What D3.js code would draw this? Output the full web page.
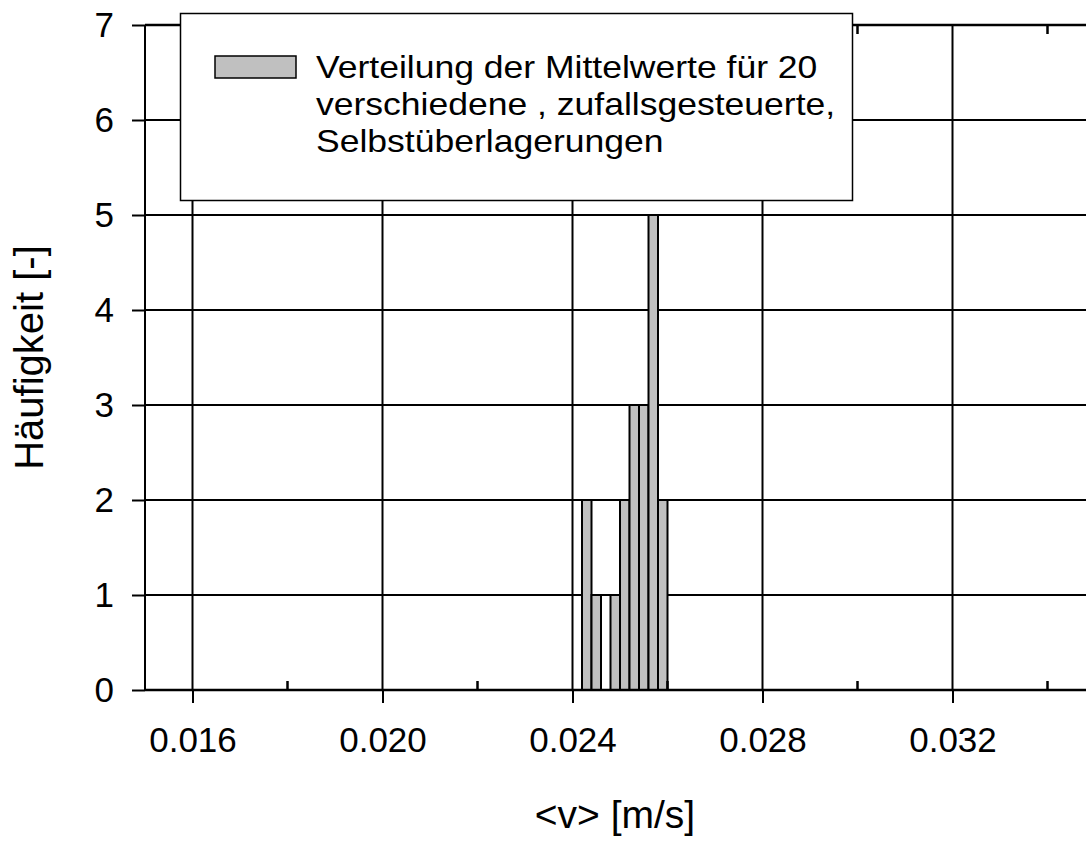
<!DOCTYPE html>
<html>
<head>
<meta charset="utf-8">
<script src="https://cdn.jsdelivr.net/npm/d3@7"></script>
<style>
  html, body { margin: 0; padding: 0; background: #fff; }
  svg { display: block; font-family: "Liberation Sans", Arial, sans-serif; }
</style>
</head>
<body>
<svg id="chart" width="1086" height="849"></svg>
<script>
// Histogram bins (lower edge of each class, m/s) and their counts
const binStarts = [0.0242, 0.0244, 0.0246, 0.0248, 0.0250, 0.0252, 0.0254, 0.0256, 0.0258];
const counts    = [2, 1, 0, 1, 2, 3, 3, 5, 2];
const binWidth  = 0.0002;

// Axis ticks
const xMajorTicks = [0.016, 0.020, 0.024, 0.028, 0.032];
const xMinorTicks = [0.018, 0.022, 0.026, 0.030, 0.034];
const xTickLabels = ["0.016", "0.020", "0.024", "0.028", "0.032"];
const yTicks = [0, 1, 2, 3, 4, 5, 6, 7];

const legendLines = [
  "Verteilung der Mittelwerte für 20",
  "verschiedene , zufallsgesteuerte,",
  "Selbstüberlagerungen"
];

const svg = d3.select("#chart");

const x = d3.scaleLinear().domain([0.015, 0.035]).range([145, 1095]);
const y = d3.scaleLinear().domain([0, 7]).range([690, 25]);

const data = binStarts.map((b, i) => ({ x0: b, x1: b + binWidth, n: counts[i] }));

// Grid lines
const grid = svg.append("g").attr("stroke", "#000").attr("stroke-width", 2);
grid.selectAll("line.v").data(xMajorTicks).join("line")
  .attr("x1", d => x(d)).attr("x2", d => x(d))
  .attr("y1", y(0)).attr("y2", y(7));
grid.selectAll("line.h").data(yTicks.filter(d => d > 0)).join("line")
  .attr("x1", x(0.015)).attr("x2", x(0.035))
  .attr("y1", d => y(d)).attr("y2", d => y(d));

// Bars
svg.append("g").selectAll("rect").data(data).join("rect")
  .attr("x", d => x(d.x0))
  .attr("width", d => x(d.x1) - x(d.x0))
  .attr("y", d => y(d.n))
  .attr("height", d => y(0) - y(d.n))
  .attr("fill", "#c0c0c0")
  .attr("stroke", "#000")
  .attr("stroke-width", 2);

// Bottom axis: major ticks cross outward, minor ticks point inward
const xAxis = d3.axisBottom(x).tickValues(xMajorTicks)
  .tickFormat((d, i) => xTickLabels[i]).tickSize(13).tickPadding(24);
const gx = svg.append("g").attr("transform", `translate(0,${y(0)})`).call(xAxis);
gx.select(".domain").remove();
gx.selectAll(".tick line").attr("stroke", "#000").attr("stroke-width", 2);
gx.selectAll(".tick text").attr("font-size", 35).attr("fill", "#000")
  .attr("font-family", "Liberation Sans, Arial, sans-serif");
svg.append("line")
  .attr("x1", x(0.015)).attr("x2", x(0.035))
  .attr("y1", y(0)).attr("y2", y(0))
  .attr("stroke", "#000").attr("stroke-width", 2.5);
svg.append("g").selectAll("line").data(xMinorTicks).join("line")
  .attr("x1", d => x(d)).attr("x2", d => x(d))
  .attr("y1", y(0)).attr("y2", y(0) - 9)
  .attr("stroke", "#000").attr("stroke-width", 2.5);

// Top frame with inward minor ticks
svg.append("line")
  .attr("x1", x(0.015)).attr("x2", x(0.035))
  .attr("y1", y(7)).attr("y2", y(7))
  .attr("stroke", "#000").attr("stroke-width", 2.5);
svg.append("g").selectAll("line").data(xMinorTicks).join("line")
  .attr("x1", d => x(d)).attr("x2", d => x(d))
  .attr("y1", y(7)).attr("y2", y(7) + 9)
  .attr("stroke", "#000").attr("stroke-width", 2.5);

// Left axis
const yAxis = d3.axisLeft(y).tickValues(yTicks).tickFormat(d3.format("d"))
  .tickSize(13).tickPadding(18);
const gy = svg.append("g").attr("transform", `translate(${x(0.015)},0)`).call(yAxis);
gy.select(".domain").attr("stroke", "#000").attr("stroke-width", 2).attr("d", `M0,${y(0)}V${y(7)}`);
gy.selectAll(".tick line").attr("stroke", "#000").attr("stroke-width", 2);
gy.selectAll(".tick text").attr("font-size", 35).attr("fill", "#000")
  .attr("font-family", "Liberation Sans, Arial, sans-serif");

// Axis titles
svg.append("text")
  .attr("x", 615).attr("y", 828)
  .attr("text-anchor", "middle").attr("font-size", 39)
  .text("<v> [m/s]");
svg.append("text")
  .attr("transform", `translate(43,${(y(0) + y(7)) / 2}) rotate(-90)`)
  .attr("text-anchor", "middle").attr("font-size", 40)
  .text("Häufigkeit [-]");

// Legend (text slightly widened, as in the original layout)
const lg = svg.append("g");
lg.append("rect")
  .attr("x", 180.5).attr("y", 13.5).attr("width", 672).attr("height", 187)
  .attr("fill", "#fff").attr("stroke", "#000").attr("stroke-width", 1.5);
lg.append("rect")
  .attr("x", 215).attr("y", 56).attr("width", 81).attr("height", 22)
  .attr("fill", "#c0c0c0").attr("stroke", "#000").attr("stroke-width", 1.5);
lg.selectAll("text").data(legendLines).join("text")
  .attr("transform", (d, i) => `translate(316,${78 + i * 37}) scale(1.11,1)`)
  .attr("font-size", 32)
  .text(d => d);
</script>
</body>
</html>
